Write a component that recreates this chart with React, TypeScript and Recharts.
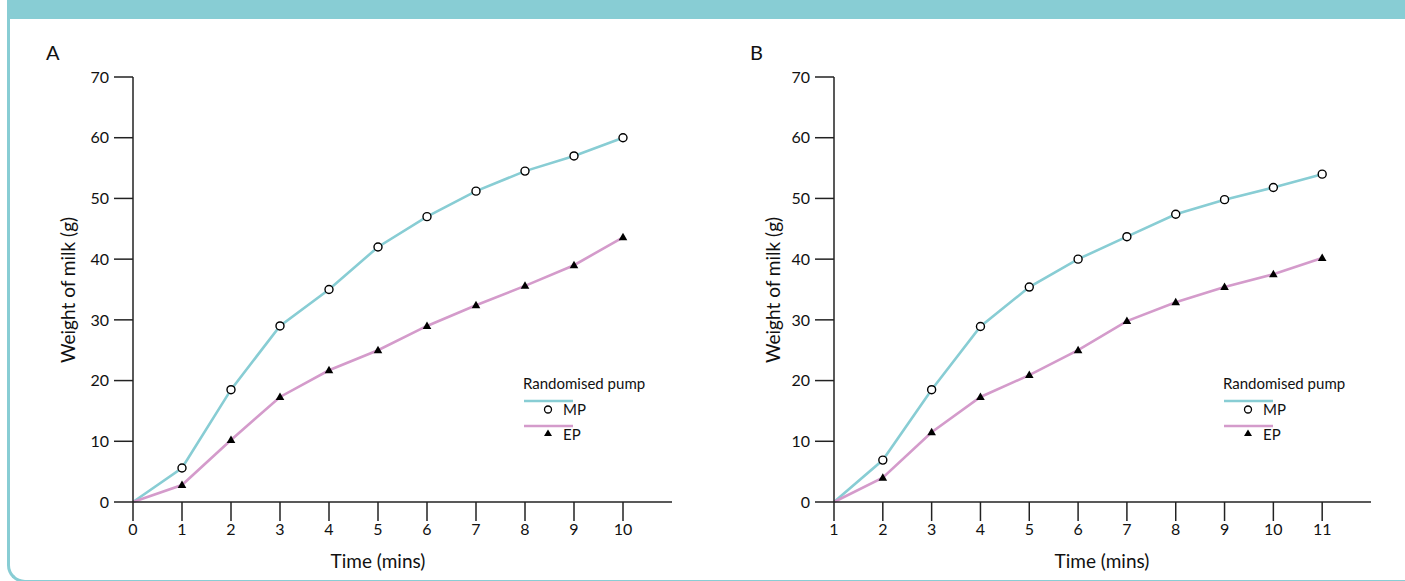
import React from 'react';
import { LineChart, Line, XAxis, YAxis } from 'recharts';

// session A: minutes 0-10, session B: minutes 1-11
const minutesA = [0, 1, 2, 3, 4, 5, 6, 7, 8, 9, 10];
const mpA = [0, 5.6, 18.5, 29, 35, 42, 47, 51.2, 54.5, 57, 60];
const epA = [0, 2.8, 10.2, 17.3, 21.7, 25, 29, 32.4, 35.6, 39, 43.6];

const minutesB = [1, 2, 3, 4, 5, 6, 7, 8, 9, 10, 11];
const mpB = [0, 6.9, 18.5, 28.9, 35.4, 40, 43.7, 47.4, 49.8, 51.8, 54];
const epB = [0, 4, 11.5, 17.3, 20.9, 25, 29.8, 32.9, 35.4, 37.5, 40.2];

const yTicks = [0, 10, 20, 30, 40, 50, 60, 70];

const TEAL = '#88cdd4';
const PINK = '#d49bcb';
const FONT = 'Lato, "Open Sans", sans-serif';

// no marker at the starting point
const OpenDot = (p: any) => {
  if (p.cx == null || p.cy == null || p.index === 0) return <g key={`o-${p.index}`} />;
  return <circle key={`o-${p.index}`} cx={p.cx} cy={p.cy} r={4} fill="#fff" stroke="#000" strokeWidth={1.4} />;
};

const TriDot = (p: any) => {
  if (p.cx == null || p.cy == null || p.index === 0) return <g key={`t-${p.index}`} />;
  const { cx, cy } = p;
  return <path key={`t-${p.index}`} d={`M${cx},${cy - 4.5} L${cx + 4.3},${cy + 3} L${cx - 4.3},${cy + 3} Z`} fill="#000" />;
};

const tickStyle = { fontSize: 16, fill: '#111', fontFamily: FONT };

const Panel = ({ minutes, mp, ep, domain, left, marginLeft, marginRight }: any) => {
  const rows = minutes.map((t: number, i: number) => ({ t, mp: mp[i], ep: ep[i] }));
  return (
    <div style={{ position: 'absolute', left, top: 0 }}>
      <LineChart
        width={702}
        height={581}
        data={rows}
        margin={{ top: 77, right: marginRight, bottom: 19, left: marginLeft }}
      >
        <XAxis
          dataKey="t"
          type="number"
          domain={domain}
          ticks={minutes}
          allowDecimals={false}
          height={60}
          tickSize={19}
          tickMargin={3}
          tick={tickStyle}
          axisLine={{ stroke: '#222', strokeWidth: 1.5 }}
          tickLine={{ stroke: '#222', strokeWidth: 1.5 }}
        />
        <YAxis
          type="number"
          domain={[0, 70]}
          ticks={yTicks}
          width={60}
          tickSize={19}
          tickMargin={5}
          tick={tickStyle}
          axisLine={{ stroke: '#222', strokeWidth: 1.5 }}
          tickLine={{ stroke: '#222', strokeWidth: 1.5 }}
        />
        <Line dataKey="mp" type="linear" stroke={TEAL} strokeWidth={2.6} dot={OpenDot} activeDot={false} isAnimationActive={false} />
        <Line dataKey="ep" type="linear" stroke={PINK} strokeWidth={2.6} dot={TriDot} activeDot={false} isAnimationActive={false} />
      </LineChart>
    </div>
  );
};

const PumpLegend = ({ x, y }: { x: number; y: number }) => (
  <svg style={{ position: 'absolute', left: x, top: y, overflow: 'visible' }} width={130} height={75}>
    <text x={1} y={19} fontSize={15} fontFamily={FONT} fill="#111">Randomised pump</text>
    <line x1={2} x2={51} y1={31} y2={31} stroke={TEAL} strokeWidth={2.6} />
    <circle cx={26} cy={39.5} r={3.5} fill="#fff" stroke="#000" strokeWidth={1.3} />
    <text x={41} y={45} fontSize={15} fontFamily={FONT} fill="#111">MP</text>
    <line x1={2} x2={51} y1={56} y2={56} stroke={PINK} strokeWidth={2.6} />
    <path d="M26,59.5 L30,66 L22,66 Z" fill="#000" />
    <text x={41} y={69.5} fontSize={15} fontFamily={FONT} fill="#111">EP</text>
  </svg>
);

const YLabel = ({ cx, cy }: { cx: number; cy: number }) => (
  <div
    style={{
      position: 'absolute', left: cx, top: cy, transform: 'translate(-50%, -50%) rotate(-90deg)',
      whiteSpace: 'nowrap', fontSize: 19, fontFamily: FONT, color: '#111',
    }}
  >
    Weight of milk (g)
  </div>
);

const XLabel = ({ cx, cy }: { cx: number; cy: number }) => (
  <div
    style={{
      position: 'absolute', left: cx, top: cy, transform: 'translate(-50%, -50%)',
      whiteSpace: 'nowrap', fontSize: 19, fontFamily: FONT, color: '#111',
    }}
  >
    Time (mins)
  </div>
);

export default function App() {
  return (
    <div style={{ position: 'absolute', left: 0, top: 0, width: 1405, height: 581, overflow: 'hidden', background: '#fff', fontFamily: FONT }}>
      {/* figure frame */}
      <div style={{ position: 'absolute', left: 7, top: 0, width: 1398, height: 19, background: TEAL }} />
      <div
        style={{
          position: 'absolute', left: 7, top: 10, width: 1420, height: 570,
          borderLeft: `3px solid ${TEAL}`, borderBottom: `3px solid ${TEAL}`, borderBottomLeftRadius: 18,
        }}
      />

      <div style={{ position: 'absolute', left: 46, top: 40, fontSize: 20, fontFamily: FONT, color: '#111' }}>A</div>
      <div style={{ position: 'absolute', left: 750, top: 40, fontSize: 20, fontFamily: FONT, color: '#111' }}>B</div>

      <Panel minutes={minutesA} mp={mpA} ep={epA} domain={[0, 11]} left={0} marginLeft={73} marginRight={30} />
      <Panel minutes={minutesB} mp={mpB} ep={epB} domain={[1, 12]} left={700} marginLeft={74} marginRight={31} />

      <YLabel cx={67} cy={290} />
      <YLabel cx={772} cy={290} />
      <XLabel cx={378} cy={560} />
      <XLabel cx={1102} cy={560} />

      <PumpLegend x={522} y={370} />
      <PumpLegend x={1222} y={370} />
    </div>
  );
}
